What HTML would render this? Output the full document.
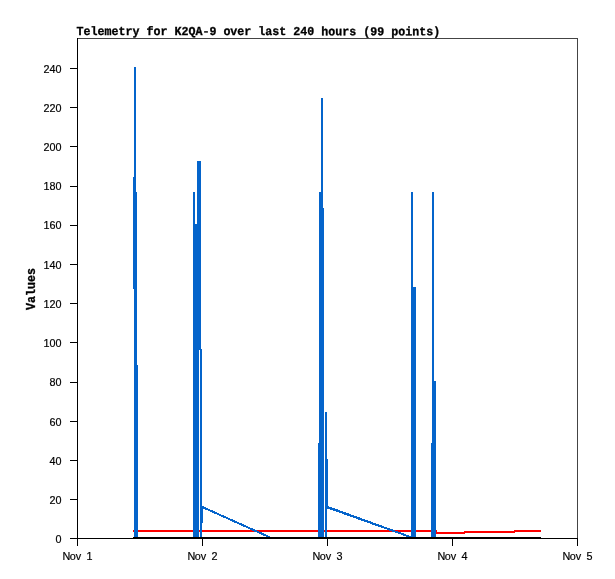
<!DOCTYPE html>
<html><head><meta charset="utf-8"><title>Telemetry for K2QA-9</title>
<style>
html,body{margin:0;padding:0;background:#fff;}
svg{display:block;}
text{font-family:"Liberation Mono","DejaVu Sans Mono",monospace;fill:#000;}
.s{font-size:10.8px;font-family:"Liberation Sans","DejaVu Sans",sans-serif;stroke:#000;stroke-width:0.2px;}
.b{font-size:11.67px;font-weight:bold;stroke:#000;stroke-width:0.3px;}
</style></head>
<body>
<svg width="615" height="579" viewBox="0 0 615 579">
<rect width="615" height="579" fill="#fff"/>
<g shape-rendering="crispEdges">
<rect x="77" y="38" width="501" height="1" fill="#444"/>
<rect x="577" y="38" width="1" height="501" fill="#444"/>
<rect x="77" y="38" width="1" height="501" fill="#000"/>
<rect x="77" y="538" width="501" height="1" fill="#000"/>
<rect x="70" y="538" width="8" height="1" fill="#000"/>
<rect x="70" y="499" width="8" height="1" fill="#000"/>
<rect x="70" y="460" width="8" height="1" fill="#000"/>
<rect x="70" y="421" width="8" height="1" fill="#000"/>
<rect x="70" y="382" width="8" height="1" fill="#000"/>
<rect x="70" y="342" width="8" height="1" fill="#000"/>
<rect x="70" y="303" width="8" height="1" fill="#000"/>
<rect x="70" y="264" width="8" height="1" fill="#000"/>
<rect x="70" y="225" width="8" height="1" fill="#000"/>
<rect x="70" y="186" width="8" height="1" fill="#000"/>
<rect x="70" y="146" width="8" height="1" fill="#000"/>
<rect x="70" y="107" width="8" height="1" fill="#000"/>
<rect x="70" y="68" width="8" height="1" fill="#000"/>
<rect x="77" y="538" width="1" height="8" fill="#000"/>
<rect x="202" y="538" width="1" height="8" fill="#000"/>
<rect x="327" y="538" width="1" height="8" fill="#000"/>
<rect x="452" y="538" width="1" height="8" fill="#000"/>
<rect x="577" y="538" width="1" height="8" fill="#000"/>
<rect x="133" y="530" width="304" height="2" fill="#ff0000"/>
<rect x="436" y="532" width="29" height="2" fill="#ff0000"/>
<rect x="464" y="531" width="51" height="2" fill="#ff0000"/>
<rect x="514" y="530" width="27" height="2" fill="#ff0000"/>
<rect x="133" y="177" width="1" height="112" fill="#0464cb"/>
<rect x="134" y="67" width="2" height="470" fill="#0464cb"/>
<rect x="136" y="192" width="1" height="345" fill="#0464cb"/>
<rect x="137" y="365" width="1" height="172" fill="#0464cb"/>
<rect x="193" y="192" width="2" height="345" fill="#0464cb"/>
<rect x="195" y="224" width="2" height="313" fill="#0464cb"/>
<rect x="197" y="161" width="2" height="376" fill="#0464cb"/>
<rect x="199" y="161" width="1" height="189" fill="#0464cb"/>
<rect x="200" y="161" width="1" height="376" fill="#0464cb"/>
<rect x="201" y="349" width="1" height="188" fill="#0464cb"/>
<rect x="202" y="506" width="1" height="17" fill="#0464cb"/>
<rect x="318" y="443" width="1" height="94" fill="#0464cb"/>
<rect x="319" y="192" width="2" height="345" fill="#0464cb"/>
<rect x="321" y="98" width="2" height="439" fill="#0464cb"/>
<rect x="323" y="208" width="1" height="329" fill="#0464cb"/>
<rect x="325" y="412" width="2" height="125" fill="#0464cb"/>
<rect x="327" y="459" width="1" height="50" fill="#0464cb"/>
<rect x="411" y="192" width="2" height="345" fill="#0464cb"/>
<rect x="413" y="287" width="3" height="250" fill="#0464cb"/>
<rect x="431" y="443" width="1" height="94" fill="#0464cb"/>
<rect x="432" y="192" width="2" height="345" fill="#0464cb"/>
<rect x="434" y="381" width="2" height="156" fill="#0464cb"/>
<polygon points="202,506 203,506.2 270.5,536.5 270.5,537 266.7,537 203,508.4 202,508" fill="#0464cb"/>
<polygon points="327,505.9 329,506.4 411,536.2 411,537 407.6,537 328,508.7 327,508.4" fill="#0464cb"/>
<rect x="133" y="537" width="408" height="2" fill="#000"/>
</g>
<text class="b" transform="translate(76.5,35) rotate(0.03) scale(1,1.04)" xml:space="preserve">Telemetry for K2QA-9 over last 240 hours (99 points)</text>
<text class="b" transform="translate(34.8,310) rotate(-90) scale(1,1.04)">Values</text>
<text class="s" x="61.6" y="543" text-anchor="end">0</text>
<text class="s" x="61.6" y="504" text-anchor="end">20</text>
<text class="s" x="61.6" y="465" text-anchor="end">40</text>
<text class="s" x="61.6" y="426" text-anchor="end">60</text>
<text class="s" x="61.6" y="386" text-anchor="end">80</text>
<text class="s" x="61.6" y="347" text-anchor="end">100</text>
<text class="s" x="61.6" y="308" text-anchor="end">120</text>
<text class="s" x="61.6" y="269" text-anchor="end">140</text>
<text class="s" x="61.6" y="229" text-anchor="end">160</text>
<text class="s" x="61.6" y="190" text-anchor="end">180</text>
<text class="s" x="61.6" y="151" text-anchor="end">200</text>
<text class="s" x="61.6" y="112" text-anchor="end">220</text>
<text class="s" x="61.6" y="73" text-anchor="end">240</text>
<text class="s" x="62.4 69.7 75.7 80.4 86.5" y="560">Nov 1</text>
<text class="s" x="187.4 194.70000000000002 200.70000000000002 205.4 211.5" y="560">Nov 2</text>
<text class="s" x="312.4 319.7 325.7 330.4 336.5" y="560">Nov 3</text>
<text class="s" x="437.4 444.7 450.7 455.4 461.5" y="560">Nov 4</text>
<text class="s" x="562.4 569.6999999999999 575.6999999999999 580.4 586.5" y="560">Nov 5</text>
</svg>
</body></html>
